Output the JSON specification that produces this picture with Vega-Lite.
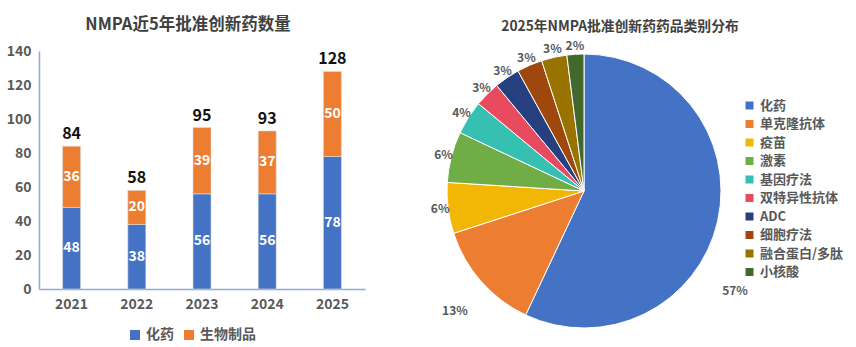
{
  "$schema": "https://vega.github.io/schema/vega-lite/v6.json",
  "padding": {"left": 6, "top": 16, "right": 0, "bottom": 0},
  "background": "white",
  "config": {
    "font": "Noto Sans CJK SC",
    "view": {"stroke": null},
    "concat": {"spacing": 57},
    "axis": {"labelOverlap": false}
  },
  "datasets": {
    "bars": [
      {"year": "2021", "type": "化药", "idx": 1, "value": 48},
      {"year": "2021", "type": "生物制品", "idx": 2, "value": 36},
      {"year": "2022", "type": "化药", "idx": 1, "value": 38},
      {"year": "2022", "type": "生物制品", "idx": 2, "value": 20},
      {"year": "2023", "type": "化药", "idx": 1, "value": 56},
      {"year": "2023", "type": "生物制品", "idx": 2, "value": 39},
      {"year": "2024", "type": "化药", "idx": 1, "value": 56},
      {"year": "2024", "type": "生物制品", "idx": 2, "value": 37},
      {"year": "2025", "type": "化药", "idx": 1, "value": 78},
      {"year": "2025", "type": "生物制品", "idx": 2, "value": 50}
    ],
    "totals": [
      {"year": "2021", "total": 84},
      {"year": "2022", "total": 58},
      {"year": "2023", "total": 95},
      {"year": "2024", "total": 93},
      {"year": "2025", "total": 128}
    ],
    "pie": [
      {"cat": "化药", "idx": 1, "pct": 57, "label": "57%"},
      {"cat": "单克隆抗体", "idx": 2, "pct": 13, "label": "13%"},
      {"cat": "疫苗", "idx": 3, "pct": 6, "label": "6%"},
      {"cat": "激素", "idx": 4, "pct": 6, "label": "6%"},
      {"cat": "基因疗法", "idx": 5, "pct": 4, "label": "4%"},
      {"cat": "双特异性抗体", "idx": 6, "pct": 3, "label": "3%"},
      {"cat": "ADC", "idx": 7, "pct": 3, "label": "3%"},
      {"cat": "细胞疗法", "idx": 8, "pct": 3, "label": "3%"},
      {"cat": "融合蛋白/多肽", "idx": 9, "pct": 3, "label": "3%"},
      {"cat": "小核酸", "idx": 10, "pct": 2, "label": "2%"}
    ]
  },
  "resolve": {"scale": {"color": "independent"}},
  "hconcat": [
    {
      "width": 326,
      "height": 238,
      "title": {"text": "NMPA近5年批准创新药数量", "fontSize": 16.5, "fontWeight": "bold", "color": "#404040", "offset": 11, "anchor": "middle", "dx": -14},
      "layer": [
        {
          "data": {"name": "bars"},
          "mark": {"type": "bar", "size": 18, "stroke": "#dddddd", "strokeWidth": 0.6},
          "encoding": {
            "x": {"field": "year", "type": "nominal", "scale": {"paddingInner": 0, "paddingOuter": 0},
              "axis": {"title": null, "labelAngle": 0, "ticks": false, "domainColor": "#8eaadb", "domainWidth": 1.5, "labelFontSize": 14, "labelFontWeight": "bold", "labelColor": "#595959", "labelPadding": 8}},
            "y": {"field": "value", "type": "quantitative", "stack": "zero", "scale": {"domain": [0, 140]},
              "axis": {"title": null, "values": [0, 20, 40, 60, 80, 100, 120, 140], "tickCount": 8, "labelOverlap": false, "grid": false, "ticks": false, "domainColor": "#8eaadb", "domainWidth": 1.5, "labelFontSize": 14, "labelFontWeight": "bold", "labelColor": "#595959", "labelPadding": 8}},
            "color": {"field": "type", "type": "nominal", "sort": ["化药", "生物制品"],
              "scale": {"domain": ["化药", "生物制品"], "range": ["#4472c4", "#ed7d31"]},
              "legend": {"title": null, "orient": "none", "legendX": 89, "legendY": 277, "direction": "horizontal", "symbolType": "square", "symbolSize": 100, "symbolStrokeWidth": 0, "labelFontSize": 14, "labelFontWeight": "bold", "labelColor": "#595959", "columnPadding": 8}},
            "order": {"field": "idx", "type": "quantitative"}
          }
        },
        {
          "data": {"name": "bars"},
          "transform": [
            {"stack": "value", "groupby": ["year"], "sort": [{"field": "idx"}], "as": ["v0", "v1"]},
            {"fold": ["v0", "v1"], "as": ["end", "pos"]}
          ],
          "mark": {"type": "text", "color": "white", "fontSize": 14, "fontWeight": "bold"},
          "encoding": {
            "x": {"field": "year", "type": "nominal"},
            "y": {"aggregate": "mean", "field": "pos", "type": "quantitative", "stack": null},
            "detail": {"field": "type"},
            "text": {"aggregate": "mean", "field": "value", "type": "quantitative"}
          }
        },
        {
          "data": {"name": "totals"},
          "mark": {"type": "text", "color": "#111111", "fontSize": 16, "fontWeight": "bold", "baseline": "bottom", "dy": -4},
          "encoding": {
            "x": {"field": "year", "type": "nominal"},
            "y": {"field": "total", "type": "quantitative"},
            "text": {"field": "total", "type": "quantitative"}
          }
        }
      ]
    },
    {
      "width": 324,
      "height": 280,
      "title": {"text": "2025年NMPA批准创新药药品类别分布", "fontSize": 13.8, "fontWeight": "bold", "color": "#404040", "offset": 6, "anchor": "middle", "dx": 36},
      "data": {"name": "pie"},
      "layer": [
        {"mark": {"type": "arc", "outerRadius": 137, "stroke": "white", "strokeWidth": 1},
          "encoding": {
            "theta": {"field": "pct", "type": "quantitative", "stack": true, "scale": {"domain": [0, 100]}},
            "order": {"field": "idx", "type": "quantitative"},
            "color": {"field": "cat", "type": "nominal",
              "scale": {"domain": ["化药", "单克隆抗体", "疫苗", "激素", "基因疗法", "双特异性抗体", "ADC", "细胞疗法", "融合蛋白/多肽", "小核酸"],
                "range": ["#4472c4", "#ed7d31", "#f2b705", "#70ad47", "#36c0b2", "#e84a5f", "#26407f", "#9e480e", "#997300", "#43682b"]},
              "legend": {"title": null, "orient": "none", "legendX": 321, "legendY": 48, "symbolType": "square", "symbolSize": 64, "symbolStrokeWidth": 0, "labelFontSize": 13, "labelFontWeight": "bold", "labelColor": "#595959", "rowPadding": 4.5}}
          }},
        {"transform": [
            {"stack": "pct", "groupby": [], "sort": [{"field": "idx"}], "as": ["s0", "s1"]},
            {"filter": "datum.idx == 1"},
            {"fold": ["s0", "s1"], "as": ["k", "ang"]}
          ],
          "mark": {"type": "text", "radius": 165, "dx": -10, "dy": 64, "fontSize": 12, "fontWeight": "bold", "color": "#595959"},
          "encoding": {
            "theta": {"aggregate": "mean", "field": "ang", "type": "quantitative", "stack": null},
            "text": {"field": "label"}
          }},
        {"transform": [
            {"stack": "pct", "groupby": [], "sort": [{"field": "idx"}], "as": ["s0", "s1"]},
            {"filter": "datum.idx == 2"},
            {"fold": ["s0", "s1"], "as": ["k", "ang"]}
          ],
          "mark": {"type": "text", "radius": 172, "dy": 6, "fontSize": 12, "fontWeight": "bold", "color": "#595959"},
          "encoding": {
            "theta": {"aggregate": "mean", "field": "ang", "type": "quantitative", "stack": null},
            "text": {"field": "label"}
          }},
        {"transform": [
            {"stack": "pct", "groupby": [], "sort": [{"field": "idx"}], "as": ["s0", "s1"]},
            {"filter": "datum.idx > 2"},
            {"fold": ["s0", "s1"], "as": ["k", "ang"]}
          ],
          "mark": {"type": "text", "radius": 145, "fontSize": 12, "fontWeight": "bold", "color": "#595959"},
          "encoding": {
            "theta": {"aggregate": "mean", "field": "ang", "type": "quantitative", "stack": null},
            "detail": {"field": "idx"},
            "text": {"field": "label"}
          }}
      ]
    }
  ]
}
